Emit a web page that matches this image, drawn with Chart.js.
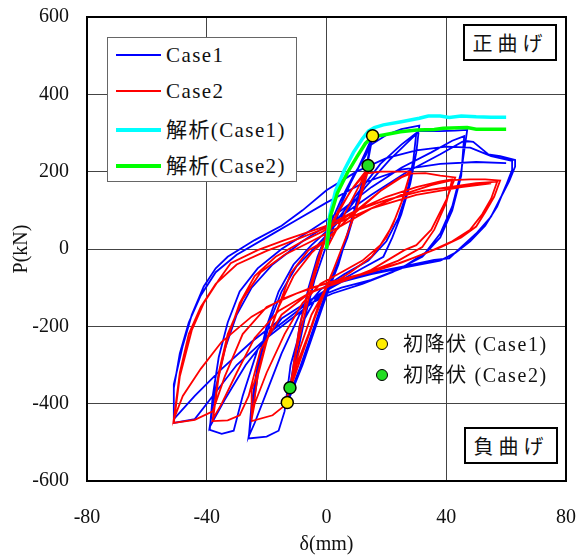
<!DOCTYPE html>
<html>
<head>
<meta charset="utf-8">
<script src="https://cdn.jsdelivr.net/npm/chart.js@4.4.1/dist/chart.umd.min.js"></script>
<style>
  body { margin: 0; background: #fff; }
  #wrap { position: relative; width: 583px; height: 557px; font-family: "Liberation Serif", "Noto Sans CJK JP", serif; color: #111; }
  #c { position: absolute; left: 0; top: 0; }
  .box { position: absolute; background: #fff; }
  .legend { left: 107px; top: 37px; width: 188px; height: 143px; border: 1.5px solid #666; }
  .row { position: absolute; left: 0; height: 24px; font-size: 21px; line-height: 24px; letter-spacing: 1.4px; }
  .row i { position: absolute; left: 8px; width: 45px; top: 11px; }
  .row span { position: absolute; left: 58px; white-space: nowrap; }
  .tag { width: 90px; height: 33px; border: 2px solid #000; font-size: 20px; line-height: 33px; text-align: center; letter-spacing: 5px; font-family: "Noto Sans CJK JP", sans-serif; }
  .mk { position: absolute; font-size: 20px; line-height: 22px; white-space: nowrap; letter-spacing: 1.6px; }
  .mk b { position: absolute; left: -27px; top: 5px; width: 10px; height: 10px; border: 1.5px solid #000; border-radius: 50%; }
</style>
</head>
<body>
<div id="wrap">
  <canvas id="c" width="583" height="557"></canvas>

  <div class="box legend">
    <div class="row" style="top:5px"><i style="border-top:2px solid #0000ff"></i><span>Case1</span></div>
    <div class="row" style="top:41px"><i style="border-top:2px solid #ff0000"></i><span>Case2</span></div>
    <div class="row" style="top:80px"><i style="border-top:4px solid #00ffff;top:10px"></i><span>解析(Case1)</span></div>
    <div class="row" style="top:116px"><i style="border-top:4px solid #00ff00;top:10px"></i><span>解析(Case2)</span></div>
  </div>

  <div class="mk" style="left:403px;top:333px"><b style="background:#ffee00"></b>初降伏 (Case1)</div>
  <div class="mk" style="left:403px;top:364px"><b style="background:#22dd22"></b>初降伏 (Case2)</div>

  <div class="box tag" style="left:463px;top:24px">正曲げ</div>
  <div class="box tag" style="left:464px;top:427px">負曲げ</div>
</div>

<script>
// axis ticks
const xTicks = [-80, -40, 0, 40, 80];
const yTicks = [-600, -400, -200, 0, 200, 400, 600];

// Case1 test, [delta mm, P kN]
const case1Loop = [
  [0,0],[3,70],[6,140],[10,200],[13,250],[15,285],
  [13,200],[10,120],[7,40],[4,-40],[0,-120],[-4,-210],[-8,-300],[-13,-397],
  [-11,-300],[-9,-200],[-6,-100],[-3,-20],[1,60],[5,130],[9,190],[13,240],[15,275],
  [13,190],[10,110],[7,30],[3,-50],[-1,-130],[-5,-220],[-9,-310],[-13,-390],
  [-10,-280],[-7,-170],[-4,-80],[0,10],[4,100],[8,170],[12,230],[15,270],
  [20,295],[25,310],[31,319],
  [30,250],[28,170],[25,90],[22,30],[19,-20],[12,-50],[5,-80],[-3,-120],[-8,-190],[-12,-300],[-14,-420],[-16,-470],[-20,-485],[-26,-490],
  [-25,-400],[-23,-300],[-20,-200],[-16,-110],[-11,-40],[-5,10],[2,60],[10,140],[18,220],[25,270],[30,300],
  [29,230],[27,150],[24,80],[20,20],[14,-30],[6,-65],[-2,-105],[-9,-170],[-15,-270],[-20,-370],[-24,-450],[-26,-485],
  [-24,-380],[-22,-280],[-19,-190],[-15,-110],[-10,-45],[-3,10],[5,80],[13,160],[21,230],[27,275],[31,305],
  [38,305],[43,306],[47,308],
  [45,200],[42,110],[38,40],[33,-10],[25,-50],[15,-80],[5,-100],[-5,-130],[-15,-180],[-23,-260],[-28,-380],[-31,-470],[-35,-478],[-39,-468],
  [-38,-380],[-36,-280],[-33,-190],[-29,-110],[-23,-50],[-15,0],[-5,50],[5,100],[15,160],[25,210],[35,250],[42,280],[46,292],
  [45,190],[42,100],[38,30],[32,-20],[22,-60],[12,-90],[2,-115],[-8,-150],[-18,-210],[-27,-300],[-34,-390],[-39,-460],
  [-37,-360],[-34,-260],[-30,-170],[-25,-100],[-18,-40],[-8,20],[3,75],[15,140],[27,200],[38,245],[46,280],
  [49,277],[54,245],[58,240],[63,230],
  [63,213],[61,175],[58,130],[55,84],[50,40],[45,5],[41,-24],[36,-28],[25,-46],[14,-63],[2,-89],[-2,-123],[-10,-170],[-20,-230],[-30,-300],[-38,-380],[-44,-440],[-51,-450],
  [-51,-350],[-48,-250],[-45,-170],[-41,-97],[-37,-50],[-33,-20],[-24,23],[-15,60],[-8,100],[0,152],[10,200],[20,235],[30,255],[40,265],[48,262],[55,240],[62,228],
  [62,205],[60,165],[57,110],[53,60],[48,20],[43,-10],[38,-30],[28,-45],[15,-65],[5,-85],[-5,-130],[-15,-180],[-25,-240],[-35,-310],[-44,-380],[-51,-440],
  [-51,-360],[-49,-270],[-46,-190],[-42,-120],[-37,-60],[-30,-15],[-20,30],[-10,75],[0,120],[12,170],[25,205],[38,220],[50,225],[60,222]
];

// Case2 test
const case2Loop = [
  [0,0],[4,60],[8,120],[12,180],[14,205],
  [12,150],[9,80],[6,20],[3,-40],[0,-100],[-4,-180],[-8,-270],[-12,-360],
  [-11,-300],[-9,-200],[-6,-110],[-3,-30],[0,40],[4,100],[9,160],[13,200],
  [11,130],[8,60],[5,0],[2,-60],[-2,-130],[-6,-220],[-10,-300],[-12,-350],
  [-10,-260],[-7,-160],[-4,-70],[-1,10],[3,80],[8,150],[13,195],
  [18,200],[23,200],[28,200],
  [26,140],[23,80],[20,30],[15,-20],[8,-60],[0,-100],[-5,-170],[-9,-260],[-12,-350],[-14,-405],[-18,-430],[-25,-445],
  [-25,-364],[-23,-321],[-20,-235],[-16,-149],[-12,-63],[-6,-3],[0,23],[6,70],[12,110],[18,150],[24,182],[28,198],
  [25,120],[22,60],[18,10],[12,-30],[5,-60],[-2,-90],[-8,-140],[-14,-220],[-20,-320],[-24,-400],[-25,-440],
  [-23,-330],[-20,-240],[-16,-150],[-11,-70],[-5,-10],[2,40],[10,100],[18,150],[25,185],[28,195],
  [33,196],[38,190],[43,185],
  [40,127],[35,50],[30,10],[26,-3],[15,-54],[5,-85],[-5,-110],[-15,-170],[-22,-260],[-26,-380],[-29,-430],[-33,-443],[-38,-445],
  [-36,-330],[-33,-230],[-29,-140],[-24,-70],[-17,-20],[-8,20],[0,50],[10,100],[20,135],[30,160],[38,175],[42,180],
  [40,120],[36,50],[32,5],[24,-30],[14,-60],[4,-85],[-6,-115],[-16,-160],[-24,-230],[-30,-320],[-35,-400],[-38,-440],
  [-36,-320],[-33,-220],[-28,-130],[-22,-60],[-14,-15],[-5,20],[5,60],[15,105],[25,140],[35,165],[42,178],
  [48,180],[53,180],[58,177],
  [56,135],[53,95],[50,58],[45,30],[38,4],[30,-20],[24,-37],[15,-58],[8,-72],[0,-88],[-10,-115],[-20,-150],[-28,-220],[-34,-330],[-38,-420],[-44,-442],[-51,-450],
  [-49,-330],[-45,-210],[-41,-140],[-36,-80],[-32,-37],[-23,-3],[-14,23],[0,60],[10,100],[20,127],[32,150],[42,161],[50,170],[57,174],
  [55,130],[52,90],[48,50],[42,20],[35,-5],[25,-35],[15,-60],[5,-80],[-5,-100],[-15,-130],[-25,-175],[-35,-240],[-42,-310],[-48,-380],[-51,-440],
  [-49,-320],[-46,-220],[-42,-150],[-37,-90],[-30,-40],[-20,-5],[-10,25],[0,55],[15,105],[30,140],[45,160],[55,170]
];

// analysis curves
const anaCase1 = [[0,0],[1,84],[3,150],[6,205],[9,250],[12,285],[14,305],[16,314],[19,321],[25,329],[31,338],[34,344],[38,344],[41,340],[45,344],[50,342],[55,341],[60,341]];
const anaCase2 = [[0,0],[1.3,84],[3.6,144],[6.9,196],[10.2,239],[13,273],[15.2,290],[19,295],[24.7,303],[30.2,308],[36,309],[39,312],[47,314],[50,310],[55,310],[60,310]];

// first yield points
const yieldCase1 = [[15.4,293],[-13.1,-397]];
const yieldCase2 = [[13.9,216],[-12.2,-359]];

const pts = arr => arr.map(p => ({ x: p[0], y: p[1] }));

const frame = {
  id: 'frame',
  afterDraw(chart) {
    const { ctx, chartArea: a } = chart;
    ctx.save();
    ctx.strokeStyle = '#000';
    ctx.lineWidth = 2;
    ctx.strokeRect(a.left, a.top, a.right - a.left, a.bottom - a.top);
    ctx.restore();
  }
};

const noPad = s => { s.paddingTop = 0; s.paddingBottom = 0; s.paddingLeft = 0; s.paddingRight = 0; };
const tickFont = { family: 'Liberation Serif', size: 20 };

new Chart(document.getElementById('c'), {
  type: 'scatter',
  data: {
    datasets: [
      { label: 'Case1', data: pts(case1Loop), showLine: true, borderColor: '#0000ff', borderWidth: 1.8, pointRadius: 0, tension: 0, order: 5 },
      { label: 'Case2', data: pts(case2Loop), showLine: true, borderColor: '#ff0000', borderWidth: 1.8, pointRadius: 0, tension: 0, order: 4 },
      { label: '解析(Case1)', data: pts(anaCase1), showLine: true, borderColor: '#00ffff', borderWidth: 3.5, pointRadius: 0, order: 3 },
      { label: '解析(Case2)', data: pts(anaCase2), showLine: true, borderColor: '#00ff00', borderWidth: 3.5, pointRadius: 0, order: 2 },
      { label: '初降伏 (Case1)', data: pts(yieldCase1), pointRadius: 6, backgroundColor: '#ffee00', borderColor: '#000', borderWidth: 1.5, order: 1 },
      { label: '初降伏 (Case2)', data: pts(yieldCase2), pointRadius: 6, backgroundColor: '#22dd22', borderColor: '#000', borderWidth: 1.5, order: 0 }
    ]
  },
  options: {
    responsive: false,
    animation: false,
    layout: { padding: { top: 17, right: 17, left: 0, bottom: 0 } },
    plugins: { legend: { display: false }, tooltip: { enabled: false } },
    scales: {
      x: {
        type: 'linear', min: xTicks[0], max: xTicks[xTicks.length - 1],
        afterBuildTicks: s => { s.ticks = xTicks.map(v => ({ value: v })); },
        afterFit: s => { s.height = 76; noPad(s); },
        ticks: { color: '#111', font: tickFont, padding: 25, maxRotation: 0 },
        grid: { color: '#444', lineWidth: 1, drawTicks: false },
        border: { display: false },
        title: { display: true, text: 'δ(mm)', color: '#111', font: tickFont, padding: { top: 0, bottom: 0 } }
      },
      y: {
        type: 'linear', min: yTicks[0], max: yTicks[yTicks.length - 1],
        afterBuildTicks: s => { s.ticks = yTicks.map(v => ({ value: v })); },
        afterFit: s => { s.width = 87; noPad(s); },
        ticks: { color: '#111', font: tickFont, padding: 18 },
        grid: { color: '#444', lineWidth: 1, drawTicks: false },
        border: { display: false },
        title: { display: true, text: 'P(kN)', color: '#111', font: tickFont, padding: { top: 10, bottom: 0 } }
      }
    }
  },
  plugins: [frame]
});
</script>
</body>
</html>
